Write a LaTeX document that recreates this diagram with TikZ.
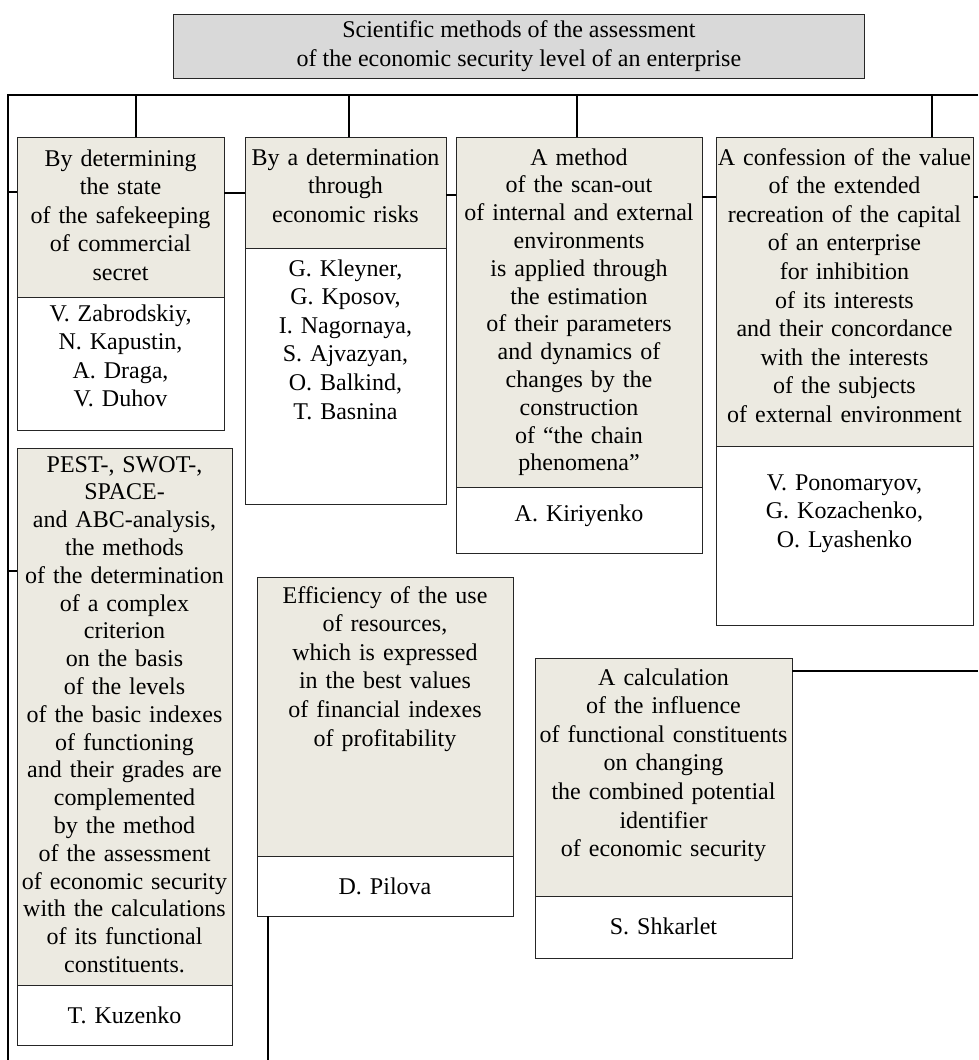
\documentclass[tikz,border=0pt]{standalone}
\usepackage{fontspec}
\setmainfont{Liberation Serif}
\definecolor{boxfill}{RGB}{236,234,225}
\definecolor{titlefill}{RGB}{217,217,217}
\begin{document}
\begin{tikzpicture}[x=1pt,y=-1pt,
  conn/.style={line width=1.5pt, black},
  shadebox/.style={draw=black!85, line width=0.9pt, fill=boxfill, anchor=north west, inner sep=0pt, outer sep=0pt},
  authbox/.style={draw=black!85, line width=0.9pt, fill=white, anchor=north west, inner sep=0pt, outer sep=0pt},
  txt/.style={font=\fontsize{24}{28.6}\selectfont, align=center, anchor=base, inner sep=0pt},
  txtb/.style={font=\fontsize{24}{27.8}\selectfont, align=center, anchor=base, inner sep=0pt}
]
\useasboundingbox (0,0) rectangle (978,1060);

% title
\node[draw=black!85, line width=0.9pt, fill=titlefill, anchor=north west, inner sep=0pt,
      minimum width=691pt, minimum height=64pt, align=center,
      font=\fontsize{24}{29}\selectfont] (title) at (173,14)
  {Scientific methods of the assessment\\of the economic security level of an enterprise};

% box 1
\node[shadebox, minimum width=207pt, minimum height=160pt] (b1) at (17,137) {};
\node[authbox, minimum width=207pt, minimum height=133pt] (a1) at (17,297) {};
\node[txt, text width=205pt] (t1) at (120.5,166) {By determining\\the state\\of the safekeeping\\of commercial\\secret};
\node[txt, text width=205pt] (u1) at (120.5,321) {V. Zabrodskiy,\\N. Kapustin,\\A. Draga,\\V. Duhov};

% box 2
\node[shadebox, minimum width=201pt, minimum height=111pt] (b2) at (245,137) {};
\node[authbox, minimum width=201pt, minimum height=256pt] (a2) at (245,248) {};
\node[txt, text width=199pt] (t2) at (345.5,165) {By a determination\\through\\economic risks};
\node[txt, text width=199pt] (u2) at (345.5,276) {G. Kleyner,\\G. Kposov,\\I. Nagornaya,\\S. Ajvazyan,\\O. Balkind,\\T. Basnina};

% box 3
\node[shadebox, minimum width=246pt, minimum height=350pt] (b3) at (456,137) {};
\node[authbox, minimum width=246pt, minimum height=66pt] (a3) at (456,487) {};
\node[txtb, text width=244pt] (t3) at (579,165) {A method\\of the scan-out\\of internal and external\\environments\\is applied through\\the estimation\\of their parameters\\and dynamics of\\changes by the\\construction\\of “the chain\\phenomena”};
\node[txt, text width=244pt] (u3) at (579,521) {A. Kiriyenko};

% box 4
\node[shadebox, minimum width=257pt, minimum height=309pt] (b4) at (716,137) {};
\node[authbox, minimum width=257pt, minimum height=179pt] (a4) at (716,446) {};
\node[txt, text width=255pt] (t4) at (844.5,165) {A confession of the value\\of the extended\\recreation of the capital\\of an enterprise\\for inhibition\\of its interests\\and their concordance\\with the interests\\of the subjects\\of external environment};
\node[txt, text width=255pt] (u4) at (844.5,490) {V. Ponomaryov,\\G. Kozachenko,\\O. Lyashenko};

% box 5
\node[shadebox, minimum width=215pt, minimum height=537pt] (b5) at (17,448) {};
\node[authbox, minimum width=215pt, minimum height=60pt] (a5) at (17,985) {};
\node[txtb, text width=213pt] (t5) at (124.5,472) {PEST-, SWOT-,\\SPACE-\\and ABC-analysis,\\the methods\\of the determination\\of a complex\\criterion\\on the basis\\of the levels\\of the basic indexes\\of functioning\\and their grades are\\complemented\\by the method\\of the assessment\\of economic security\\with the calculations\\of its functional\\constituents.};
\node[txt, text width=213pt] (u5) at (124.5,1023) {T. Kuzenko};

% box 6
\node[shadebox, minimum width=256pt, minimum height=279pt] (b6) at (257,577) {};
\node[authbox, minimum width=256pt, minimum height=60pt] (a6) at (257,856) {};
\node[txt, text width=254pt] (t6) at (385,603) {Efficiency of the use\\of resources,\\which is expressed\\in the best values\\of financial indexes\\of profitability};
\node[txt, text width=254pt] (u6) at (385,894) {D. Pilova};

% box 7
\node[shadebox, minimum width=257pt, minimum height=238pt] (b7) at (535,658) {};
\node[authbox, minimum width=257pt, minimum height=62pt] (a7) at (535,896) {};
\node[txt, text width=255pt] (t7) at (663.5,685) {A calculation\\of the influence\\of functional constituents\\on changing\\the combined potential\\identifier\\of economic security};
\node[txt, text width=255pt] (u7) at (663.5,934) {S. Shkarlet};

% connectors
\coordinate (busL) at (8,95);
\coordinate (busR) at (978,95);
\coordinate (botL) at (8,1060);
\draw[conn] (busR) -- (busL) -- (botL);

\coordinate (d1) at (136,95);
\coordinate (d2) at (349,95);
\coordinate (d3) at (577,95);
\coordinate (d4) at (932,95);
\draw[conn] (d1) -- (d1 |- b1.north);
\draw[conn] (d2) -- (d2 |- b2.north);
\draw[conn] (d3) -- (d3 |- b3.north);
\draw[conn] (d4) -- (d4 |- b4.north);

\coordinate (s1) at (8,192);
\coordinate (s12) at (0,193);
\coordinate (s23) at (0,195);
\coordinate (s34) at (0,197);
\coordinate (r4) at (978,197);
\draw[conn] (s1) -- (s1 -| b1.west);
\draw[conn] (b1.east |- s12) -- (b2.west |- s12);
\draw[conn] (b2.east |- s23) -- (b3.west |- s23);
\draw[conn] (b3.east |- s34) -- (b4.west |- s34);
\draw[conn] (b4.east |- r4) -- (r4);

\coordinate (s5) at (8,571);
\draw[conn] (s5) -- (s5 -| b5.west);

\coordinate (p6) at (268,1060);
\draw[conn] (p6 |- a6.south) -- (p6);

\coordinate (r7) at (978,671);
\draw[conn] (b7.east |- r7) -- (r7);
\end{tikzpicture}
\end{document}
